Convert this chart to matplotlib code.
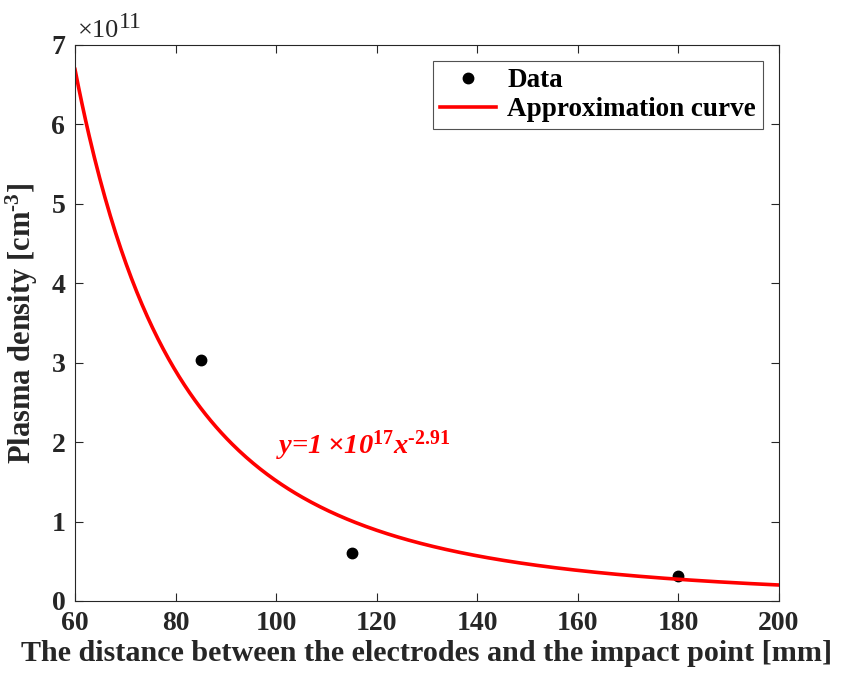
import numpy as np
import matplotlib.pyplot as plt

# measured points
distance = [85, 115, 180]          # mm
density = [3.03e11, 0.61e11, 0.31e11]  # cm^-3

# power-law fit shown on the chart: y = a * x^b
fit_a = 1e17
fit_b = -2.91
x_min, x_max = 60, 200

plt.rcParams['font.family'] = ['Liberation Serif', 'DejaVu Serif']
plt.rcParams['font.weight'] = 'bold'
plt.rcParams['mathtext.fontset'] = 'custom'
plt.rcParams['mathtext.rm'] = 'Liberation Serif:bold'
plt.rcParams['mathtext.it'] = 'Liberation Serif:bold:italic'
plt.rcParams['axes.unicode_minus'] = False

fig = plt.figure(figsize=(8.44, 6.74), dpi=100)
ax = fig.add_axes([75 / 844, 73 / 674, 704 / 844, 556 / 674])

xs = np.linspace(x_min, x_max, 400)
ax.plot(distance, density, 'o', color='black', markersize=7.5, label='Data')
ax.plot(xs, fit_a * xs ** fit_b, color='#ff0000', lw=2.6, label='Approximation curve')

ax.text(100, 1.85e11, '$y$=1\u2009\u00d710$^{17}$$x$$^{\u20102.91}$', color='#ff0000',
        fontsize=20.5, fontstyle='italic', fontweight='bold')

ax.set_xlim(x_min, x_max)
ax.set_ylim(0, 7e11)
ax.set_xticks(range(60, 201, 20))
ax.set_yticks(np.arange(0, 8) * 1e11)
ax.set_yticklabels([str(i) for i in range(8)])

# exponent label above the y axis, like MATLAB's
ax.text(0.004, 1.014, '\u00d710', transform=ax.transAxes, fontsize=19,
        fontweight='normal', color='#262626', ha='left', va='baseline')
ax.text(0.063, 1.031, '11', transform=ax.transAxes, fontsize=17,
        fontweight='normal', color='#262626', ha='left', va='baseline')

ax.tick_params(direction='in', top=True, right=True, length=6, width=0.8,
               labelsize=20, colors='#262626', pad=7)
for s in ax.spines.values():
    s.set_color('#262626')
    s.set_linewidth(0.8)

ax.set_xlabel('The distance between the electrodes and the impact point [mm]',
              fontsize=21.7, fontweight='bold', color='#262626', labelpad=3)
ax.set_ylabel('Plasma density [cm$^{\u20103}$]', fontsize=22, fontweight='bold',
              color='#262626', labelpad=8)

leg = ax.legend(loc='upper right', fontsize=19.5, frameon=True, fancybox=False,
                edgecolor='#262626', borderaxespad=0.6, handlelength=2.1,
                borderpad=0.25, labelspacing=0.15, handletextpad=0.4)
leg.get_frame().set_linewidth(0.8)

fig.savefig('out.png', dpi=100)
